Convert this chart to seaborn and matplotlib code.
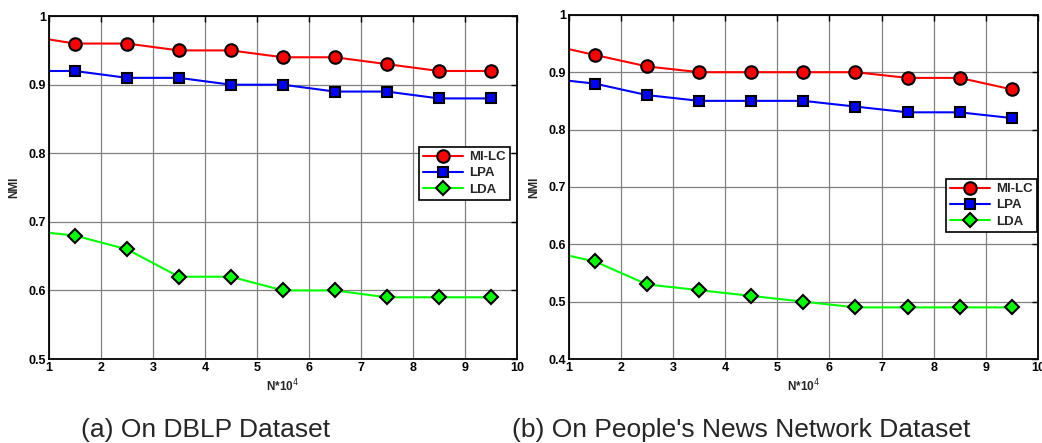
import matplotlib
matplotlib.use('Agg')
import matplotlib.pyplot as plt
import seaborn as sns
import pandas as pd
from matplotlib.lines import Line2D

# x positions: first value sits on the left axis edge (no marker), the rest carry markers
n_values = [1, 1.5, 2.5, 3.5, 4.5, 5.5, 6.5, 7.5, 8.5, 9.5]

# (a) DBLP
dblp_milc = [0.966, 0.96, 0.96, 0.95, 0.95, 0.94, 0.94, 0.93, 0.92, 0.92]
dblp_lpa = [0.92, 0.92, 0.91, 0.91, 0.90, 0.90, 0.89, 0.89, 0.88, 0.88]
dblp_lda = [0.684, 0.68, 0.66, 0.62, 0.62, 0.60, 0.60, 0.59, 0.59, 0.59]

# (b) People's News Network
news_milc = [0.94, 0.93, 0.91, 0.90, 0.90, 0.90, 0.90, 0.89, 0.89, 0.87]
news_lpa = [0.885, 0.88, 0.86, 0.85, 0.85, 0.85, 0.84, 0.83, 0.83, 0.82]
news_lda = [0.58, 0.57, 0.53, 0.52, 0.51, 0.50, 0.49, 0.49, 0.49, 0.49]

methods = ['MI-LC', 'LPA', 'LDA']
colors = {'MI-LC': '#ff0000', 'LPA': '#0000ff', 'LDA': '#00ff00'}
markers = {'MI-LC': 'o', 'LPA': 's', 'LDA': 'D'}
msizes = {'MI-LC': 9, 'LPA': 7.5, 'LDA': 7.5}

captions = ['(a) On DBLP Dataset', "(b) On People's News Network Dataset"]

sns.set_style('white')
plt.rcParams['font.family'] = ['Liberation Sans', 'DejaVu Sans']

fig = plt.figure(figsize=(10.42, 4.43), dpi=100)
ax1 = fig.add_axes([0.047, 0.1896, 0.449, 0.774])
ax2 = fig.add_axes([0.546, 0.1896, 0.450, 0.777])

panels = [
    (ax1, {'MI-LC': dblp_milc, 'LPA': dblp_lpa, 'LDA': dblp_lda}, (0.5, 1.0), (0.985, 0.618)),
    (ax2, {'MI-LC': news_milc, 'LPA': news_lpa, 'LDA': news_lda}, (0.4, 1.0), (0.998, 0.523)),
]

for ax, series, ylim, leg_pos in panels:
    for m in methods:
        df = pd.DataFrame({'N': n_values, 'NMI': series[m]})
        sns.lineplot(data=df, x='N', y='NMI', ax=ax, color=colors[m], lw=1.5,
                     marker=markers[m], markersize=msizes[m], markeredgecolor='black',
                     markeredgewidth=1.5, markevery=list(range(1, len(n_values))))

    ax.set_xlim(1, 10)
    ax.set_ylim(*ylim)
    ax.set_xticks(range(1, 11))
    yt = [round(ylim[0] + 0.1 * i, 1) for i in range(int(round((ylim[1] - ylim[0]) / 0.1)) + 1)]
    ax.set_yticks(yt)
    ax.set_yticklabels(['1' if v == 1.0 else f'{v:.1f}' for v in yt])
    ax.grid(True, color='#808080', lw=0.9)
    ax.tick_params(direction='in', length=4, width=1, top=True, right=True,
                   labelsize=9, pad=2, colors='black')
    for lab in ax.get_xticklabels() + ax.get_yticklabels():
        lab.set_fontweight('bold')
    for sp in ax.spines.values():
        sp.set_color('black')
        sp.set_linewidth(1.3)
    ax.set_xlabel('N*10$^4$', fontsize=8.5, fontweight='bold', labelpad=3)
    ax.set_ylabel('NMI', fontsize=8.5, fontweight='bold', labelpad=6)

    handles = [Line2D([], [], color=colors[m], lw=1.5, marker=markers[m], markersize=msizes[m],
                      markeredgecolor='black', markeredgewidth=1.5) for m in methods]
    leg = ax.legend(handles, methods, loc='upper right', bbox_to_anchor=leg_pos,
                    fancybox=False, framealpha=1, edgecolor='black',
                    prop={'size': 9.5, 'weight': 'bold'}, handlelength=3.0,
                    borderpad=0.3, labelspacing=0.3, handletextpad=0.5,
                    borderaxespad=0)
    leg.get_frame().set_linewidth(1.2)

fig.text(206 / 1042, 1 - 430 / 443, captions[0], ha='center', va='center', fontsize=19)
fig.text(741 / 1042, 1 - 430 / 443, captions[1], ha='center', va='center', fontsize=19)

fig.savefig('out.png', dpi=100)
